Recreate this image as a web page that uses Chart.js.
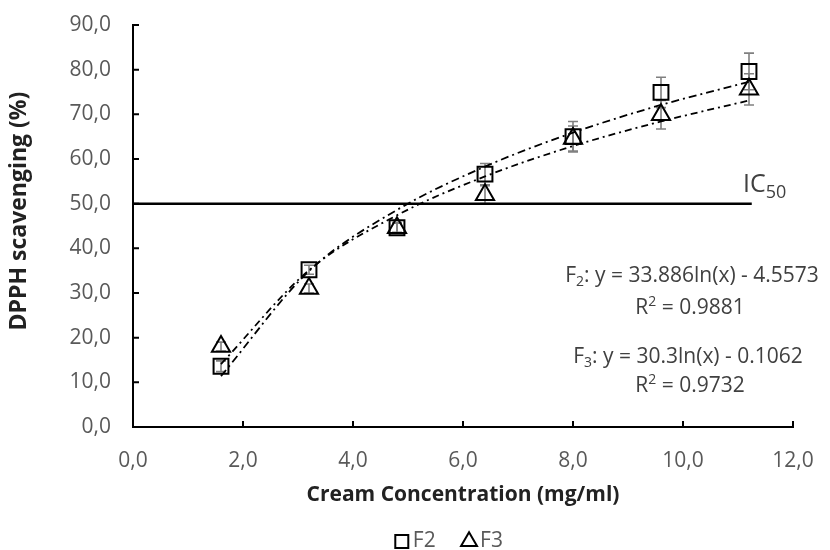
<!DOCTYPE html>
<html>
<head>
<meta charset="utf-8">
<script src="https://cdn.jsdelivr.net/npm/chart.js@4.4.0/dist/chart.umd.min.js"></script>
<style>
  html, body { margin: 0; padding: 0; background: #fff; }
  #wrap { width: 830px; height: 550px; }
</style>
</head>
<body>
<div id="wrap"><canvas id="myChart"></canvas></div>
<script>
// values
const concentrations = [1.6, 3.2, 4.8, 6.4, 8.0, 9.6, 11.2];
const f2Values = [13.6, 35.2, 44.6, 56.6, 65.0, 74.9, 79.6];
const f3Values = [18.0, 31.0, 44.6, 52.0, 64.6, 69.9, 75.6];
const f2Errors = [1.2, 1.0, 1.2, 2.4, 3.4, 3.4, 4.1];
const f3Errors = [1.0, 1.0, 1.0, 2.0, 2.8, 3.2, 3.5];
// dash-dot trend curves, read at each concentration
const f2Trend = [11.4, 34.9, 48.6, 58.3, 65.9, 72.1, 77.3];
const f3Trend = [14.1, 35.1, 47.4, 56.1, 62.9, 68.4, 73.1];
// IC50 reference line
const ic50X = [0, 11.25];
const ic50Y = [50, 50];

const FONT = '"Open Sans", "Liberation Sans", sans-serif';

function toPoints(xs, ys) {
    return xs.map((x, i) => ({ x: x, y: ys[i] }));
}

const fmt = v => Number(v).toFixed(1).replace('.', ','); // comma decimals

// error bars drawn under the (hollow) markers
const errorBars = {
    id: 'errorBars',
    beforeDatasetsDraw(chart) {
        const { ctx, scales: { x, y } } = chart;
        const sets = [[f2Values, f2Errors], [f3Values, f3Errors]];
        ctx.save();
        ctx.strokeStyle = '#808080';
        ctx.lineWidth = 1.6;
        sets.forEach(([vals, errs]) => {
            concentrations.forEach((c, i) => {
                const px = x.getPixelForValue(c);
                const top = y.getPixelForValue(vals[i] + errs[i]);
                const bot = y.getPixelForValue(vals[i] - errs[i]);
                ctx.beginPath();
                ctx.moveTo(px, top); ctx.lineTo(px, bot);
                ctx.moveTo(px - 5, top); ctx.lineTo(px + 5, top);
                ctx.moveTo(px - 5, bot); ctx.lineTo(px + 5, bot);
                ctx.stroke();
            });
        });
        ctx.restore();
    }
};

// tick marks pointing into the plot area
const insideTicks = {
    id: 'insideTicks',
    afterDraw(chart) {
        const { ctx, chartArea, scales: { x, y } } = chart;
        ctx.save();
        ctx.strokeStyle = '#000';
        ctx.lineWidth = 2;
        ctx.beginPath();
        x.ticks.forEach(t => {
            const px = x.getPixelForValue(t.value);
            ctx.moveTo(px, chartArea.bottom);
            ctx.lineTo(px, chartArea.bottom - 6);
        });
        y.ticks.forEach(t => {
            const py = y.getPixelForValue(t.value);
            ctx.moveTo(chartArea.left, py);
            ctx.lineTo(chartArea.left + 6, py);
        });
        ctx.stroke();
        ctx.restore();
    }
};

// text with sub/superscripts, centred on cx
function drawRich(ctx, parts, cx, cy, size) {
    const small = Math.round(size * 0.65);
    let total = 0;
    parts.forEach(p => {
        ctx.font = `${p.s ? small : size}px ${FONT}`;
        p.w = ctx.measureText(p.t).width;
        total += p.w;
    });
    let xx = cx - total / 2;
    parts.forEach(p => {
        ctx.font = `${p.s ? small : size}px ${FONT}`;
        const dy = p.s === 'sub' ? size * 0.28 : p.s === 'sup' ? -size * 0.3 : 0;
        ctx.fillText(p.t, xx, cy + dy);
        xx += p.w;
    });
}

const labels = {
    id: 'labels',
    afterDraw(chart) {
        const { ctx } = chart;
        ctx.save();
        ctx.fillStyle = '#404040';
        ctx.textBaseline = 'middle';
        ctx.textAlign = 'left';
        drawRich(ctx, [{ t: 'F' }, { t: '2', s: 'sub' }, { t: ': y = 33.886ln(x) - 4.5573' }], 692, 276, 21);
        drawRich(ctx, [{ t: 'R' }, { t: '2', s: 'sup' }, { t: ' = 0.9881' }], 690, 308, 21);
        drawRich(ctx, [{ t: 'F' }, { t: '3', s: 'sub' }, { t: ': y = 30.3ln(x) - 0.1062' }], 688, 357, 21);
        drawRich(ctx, [{ t: 'R' }, { t: '2', s: 'sup' }, { t: ' = 0.9732' }], 690, 386, 21);
        ctx.font = `25px ${FONT}`;
        ctx.fillText('IC', 743, 185);
        const w = ctx.measureText('IC').width;
        ctx.font = `18px ${FONT}`;
        ctx.fillText('50', 743 + w, 193);
        ctx.restore();
    }
};

// drop the label overhang so the plot area sits exactly inside the layout padding
const noOverhang = scale => {
    scale.paddingTop = 0;
    scale.paddingBottom = 0;
    scale.paddingLeft = 0;
    scale.paddingRight = 0;
};

const ctx = document.getElementById('myChart').getContext('2d');
const myChart = new Chart(ctx, {
    type: 'scatter',
    data: {
        datasets: [
            {
                label: 'F2',
                data: toPoints(concentrations, f2Values),
                pointStyle: 'rect',
                pointRadius: 10.5,
                pointHoverRadius: 10.5,
                borderColor: '#000',
                backgroundColor: 'rgba(0,0,0,0)',
                borderWidth: 2,
                order: 1
            },
            {
                label: 'F3',
                data: toPoints(concentrations, f3Values),
                pointStyle: 'triangle',
                pointRadius: 10.5,
                pointHoverRadius: 10.5,
                borderColor: '#000',
                backgroundColor: 'rgba(0,0,0,0)',
                borderWidth: 2,
                order: 2
            },
            {
                label: 'F2 trend',
                data: toPoints(concentrations, f2Trend),
                showLine: true,
                pointRadius: 0,
                borderColor: '#000',
                borderWidth: 1.8,
                borderDash: [8, 4, 2, 4],
                cubicInterpolationMode: 'monotone',
                order: 3
            },
            {
                label: 'F3 trend',
                data: toPoints(concentrations, f3Trend),
                showLine: true,
                pointRadius: 0,
                borderColor: '#000',
                borderWidth: 1.8,
                borderDash: [7, 4, 2, 4],
                cubicInterpolationMode: 'monotone',
                order: 4
            },
            {
                label: 'IC50',
                data: toPoints(ic50X, ic50Y),
                showLine: true,
                pointRadius: 0,
                borderColor: '#000',
                borderWidth: 2.5,
                order: 5
            }
        ]
    },
    options: {
        responsive: true,
        maintainAspectRatio: false,
        animation: false,
        layout: { padding: { left: 0, right: 37, top: 25, bottom: -12 } },
        scales: {
            x: {
                type: 'linear',
                min: 0,
                max: 12,
                afterFit: scale => { noOverhang(scale); scale.height = 82; },
                ticks: {
                    stepSize: 2,
                    padding: 21,
                    color: '#595959',
                    font: { family: FONT, size: 21 },
                    callback: fmt
                },
                grid: { display: false, drawTicks: false },
                border: { color: '#000', width: 2 },
                title: {
                    display: true,
                    text: 'Cream Concentration (mg/ml)',
                    color: '#222',
                    font: { family: FONT, size: 21, weight: 'bold' },
                    padding: { top: 2, bottom: 1 }
                }
            },
            y: {
                min: 0,
                max: 90,
                afterFit: scale => { noOverhang(scale); scale.width = 133; },
                ticks: {
                    stepSize: 10,
                    padding: 22,
                    color: '#595959',
                    font: { family: FONT, size: 21 },
                    callback: fmt
                },
                grid: { display: false, drawTicks: false },
                border: { color: '#000', width: 2 },
                title: {
                    display: true,
                    text: '     DPPH scavenging (%)',
                    color: '#222',
                    font: { family: FONT, size: 23, weight: 'bold' },
                    padding: { top: 6, bottom: 0 }
                }
            }
        },
        plugins: {
            legend: {
                position: 'bottom',
                fullSize: false,
                labels: {
                    usePointStyle: true,
                    boxWidth: 1,
                    boxHeight: 13,
                    padding: 22,
                    color: '#595959',
                    font: { family: FONT, size: 21 },
                    generateLabels: chart => Chart.defaults.plugins.legend.labels.generateLabels(chart)
                        .filter(item => item.datasetIndex < 2)
                        .map(item => {
                            // trailing spaces: wider gap before F3, legend sits a bit left
                            item.text += item.datasetIndex === 0 ? '  ' : '    ';
                            return item;
                        })
                }
            },
            tooltip: { enabled: false }
        }
    },
    plugins: [errorBars, insideTicks, labels]
});
</script>
</body>
</html>
